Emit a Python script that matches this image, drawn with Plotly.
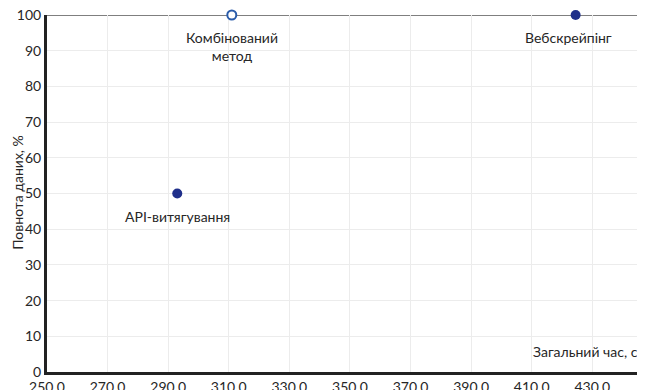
import plotly.graph_objects as go

methods = ["API-витягування", "Комбінований<br>метод", "Вебскрейпінг"]
total_time = [293.0, 311.0, 424.5]
completeness = [50, 100, 100]
filled = [True, False, True]
label_dx = [0, 0, -7]

x_ticks = [250, 270, 290, 310, 330, 350, 370, 390, 410, 430]
y_ticks = [0, 10, 20, 30, 40, 50, 60, 70, 80, 90, 100]

FONT = "Lato, 'Open Sans', sans-serif"
TXT = "#262626"

fig = go.Figure()
for m, x, y, f in zip(methods, total_time, completeness, filled):
    fig.add_trace(go.Scatter(
        x=[x], y=[y], mode="markers",
        marker=dict(size=10 if f else 9,
                    color="#1f2f8a" if f else "white",
                    line=dict(color="#1f2f8a" if f else "#2a5caa", width=0 if f else 2)),
        cliponaxis=False, showlegend=False, hoverinfo="skip",
    ))

annotations = [
    dict(text=m, x=x, y=y, xref="x", yref="y", xanchor="center", yanchor="top",
         yshift=-12, xshift=dx, showarrow=False,
         font=dict(family=FONT, size=14, color=TXT))
    for m, x, y, dx in zip(methods, total_time, completeness, label_dx)
]

fig.add_shape(type="line", xref="paper", yref="y", x0=0, x1=1, y0=100, y1=100,
              line=dict(color="#555555", width=1.5), layer="below")

fig.update_layout(
    width=637, height=382,
    margin=dict(l=39, r=0, t=7, b=18, autoexpand=False),
    paper_bgcolor="white", plot_bgcolor="white",
    font=dict(family=FONT, size=14, color=TXT),
    xaxis=dict(range=[250, 447.4], tickvals=x_ticks,
               ticktext=[f"{v:.1f}" for v in x_ticks],
               showgrid=True, gridcolor="#ececec", gridwidth=1,
               showline=True, linecolor="#222222", linewidth=3,
               zeroline=False, ticks="", ticklen=0, automargin=False,
               ticklabeloverflow="allow",
               tickfont=dict(family=FONT, size=14, color=TXT)),
    yaxis=dict(range=[0, 100], tickvals=y_ticks,
               showgrid=True, gridcolor="#ececec", gridwidth=1,
               showline=True, linecolor="#222222", linewidth=3,
               zeroline=False, ticks="", ticklen=0, automargin=False,
               ticklabeloverflow="allow",
               tickfont=dict(family=FONT, size=14, color=TXT)),
    annotations=annotations + [
        dict(text="Повнота даних, %", xref="paper", yref="paper",
             x=-0.0485, y=0.505, xanchor="center", yanchor="middle",
             textangle=-90, showarrow=False,
             font=dict(family=FONT, size=14, color=TXT)),
        dict(text="Загальний час, с", xref="paper", yref="paper",
             x=0.9916, y=0.028, xanchor="right", yanchor="bottom",
             showarrow=False,
             font=dict(family=FONT, size=14, color=TXT)),
    ],
)

fig.write_html("out.html")
